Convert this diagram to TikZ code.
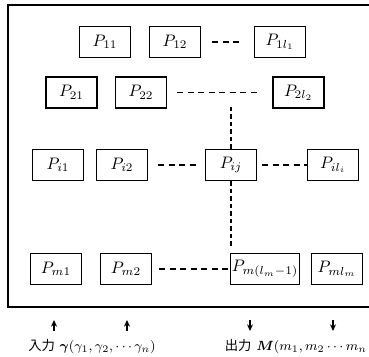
\documentclass[tikz,border=0pt]{standalone}
\usepackage{amsmath}
\usepackage{fontspec}
\newfontfamily\cjk{Noto Sans CJK JP}
\usetikzlibrary{arrows.meta}
\begin{document}
\begin{tikzpicture}[x=0.6pt, y=-0.6pt,
  pbox/.style={draw, thick, minimum width=30.6pt, minimum height=18.6pt, inner sep=1pt},
  hdots/.style={thick, dash pattern=on 3.6pt off 2.7pt},
  vdots/.style={thick, dash pattern=on 2.7pt off 1.8pt},
  io/.style={-{Stealth[length=4pt,width=3.6pt]}, thick}]
\useasboundingbox (0,0) rectangle (369,357);
\draw[line width=1.1pt] (8,5) rectangle (375,307);

\node[pbox] (p11) at (105,42) {$P_{11}$};
\node[pbox] (p12) at (175,42) {$P_{12}$};
\node[pbox] (p1l) at (280,42) {$P_{1l_1}$};
\node[pbox] (p21) at (71.5,92.5) {$P_{21}$};
\node[pbox] (p22) at (141,92.5) {$P_{22}$};
\node[pbox] (p2l) at (298.5,92.5) {$P_{2l_2}$};
\node[pbox] (pi1) at (58,165) {$P_{i1}$};
\node[pbox] (pi2) at (122,165) {$P_{i2}$};
\node[pbox] (pij) at (231,165) {$P_{ij}$};
\node[pbox] (pil) at (333,165) {$P_{il_i}$};
\node[pbox] (pm1) at (56,269) {$P_{m1}$};
\node[pbox] (pm2) at (126,269) {$P_{m2}$};
\node[pbox] (pmk) at (265,269) {$P_{m(l_m{-}1)}$};
\node[pbox] (pml) at (337,269) {$P_{ml_m}$};

\draw[hdots, shorten <=6.6pt, shorten >=8.4pt] (p12) -- (p1l);
\draw[hdots, shorten <=6pt, shorten >=7.8pt] (p22) -- (p2l);
\draw[hdots, shorten <=6pt, shorten >=4.2pt] (pi2) -- (pij);
\draw[hdots, shorten <=3pt] (pij) -- (pil);
\draw[hdots, shorten <=4.2pt] (pm2) -- (pmk);

\coordinate (vtop) at (231,107);
\coordinate (vbot) at (231,248);
\draw[vdots] (vtop) -- (pij);
\draw[vdots] (pij) -- (vbot);

\coordinate (in1) at (54,331);
\coordinate (in2) at (127,331);
\coordinate (out1) at (250,320);
\coordinate (out2) at (333,320);
\draw[io] (in1) -- ++(0,-11);
\draw[io] (in2) -- ++(0,-11);
\draw[io] (out1) -- ++(0,11);
\draw[io] (out2) -- ++(0,11);

\node[font=\footnotesize] (inlab) at (92,347) {{\cjk 入力} $\boldsymbol{\gamma}(\gamma_1, \gamma_2, \cdots\gamma_n)$};
\node[font=\footnotesize, anchor=west] (outlab) at (219,347) {{\cjk 出力} $\boldsymbol{M}(m_1, m_2 \cdots m_n$};
\end{tikzpicture}
\end{document}
